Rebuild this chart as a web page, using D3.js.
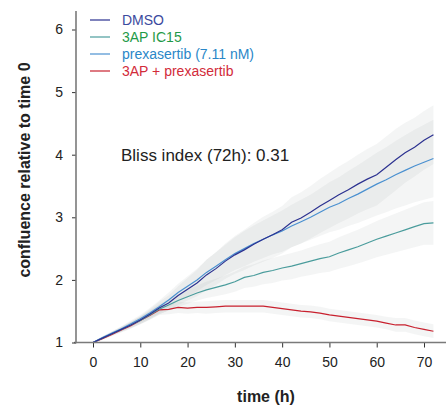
<!DOCTYPE html>
<html lang="en">
<head>
<meta charset="UTF-8">
<title>Confluence over time</title>
<script src="https://d3js.org/d3.v7.min.js"></script>
<style>
  body { margin: 0; background: #fff; }
  svg { display: block; font-family: "Liberation Sans", Arial, sans-serif; }
</style>
</head>
<body>
<div id="chart"></div>
<script>
// time points (h)
const hours = [0,2,4,6,8,10,12,14,16,18,20,22,24,26,28,30,32,34,36,38,40,42,44,46,48,50,52,54,56,58,60,62,64,66,68,70,72];

// mean confluence relative to time 0
const dmso = [1.00,1.07,1.14,1.21,1.28,1.36,1.45,1.55,1.63,1.75,1.85,1.95,2.08,2.18,2.30,2.40,2.48,2.57,2.65,2.72,2.80,2.92,2.99,3.08,3.18,3.27,3.36,3.44,3.53,3.61,3.68,3.80,3.92,4.03,4.12,4.23,4.32];
const ap3 = [1.00,1.07,1.14,1.21,1.28,1.35,1.44,1.53,1.60,1.67,1.73,1.79,1.84,1.88,1.92,1.97,2.04,2.07,2.12,2.15,2.19,2.22,2.26,2.30,2.34,2.37,2.43,2.48,2.53,2.59,2.65,2.70,2.75,2.80,2.85,2.90,2.91];
const prex = [1.00,1.08,1.15,1.22,1.30,1.38,1.47,1.57,1.68,1.80,1.90,2.00,2.12,2.22,2.32,2.42,2.50,2.58,2.65,2.72,2.78,2.86,2.93,3.00,3.08,3.16,3.22,3.30,3.37,3.45,3.53,3.60,3.68,3.75,3.82,3.88,3.94];
const combo = [1.00,1.06,1.13,1.20,1.27,1.35,1.43,1.52,1.53,1.56,1.55,1.56,1.56,1.57,1.58,1.58,1.58,1.58,1.58,1.56,1.54,1.52,1.50,1.49,1.47,1.44,1.42,1.40,1.38,1.36,1.34,1.31,1.28,1.28,1.24,1.21,1.18];

// spread (half width of the shaded band)
const dmsoSd = [.01,.02,.03,.04,.05,.06,.08,.10,.12,.15,.18,.21,.24,.26,.28,.30,.32,.34,.36,.37,.38,.40,.41,.42,.43,.44,.45,.46,.47,.48,.49,.49,.49,.48,.47,.47,.47];
const ap3Sd = [.01,.02,.03,.04,.05,.06,.07,.08,.09,.10,.11,.12,.13,.14,.15,.16,.17,.18,.19,.20,.20,.21,.21,.22,.23,.24,.25,.26,.27,.28,.29,.30,.31,.32,.33,.34,.35];
const prexSd = [.01,.02,.03,.04,.05,.06,.08,.10,.12,.14,.16,.18,.20,.22,.24,.26,.28,.29,.30,.31,.33,.34,.35,.36,.38,.40,.42,.44,.46,.48,.50,.52,.54,.56,.58,.60,.62];
const comboSd = [.01,.02,.03,.04,.05,.06,.07,.08,.08,.09,.09,.09,.10,.10,.10,.10,.10,.10,.10,.10,.10,.10,.10,.10,.10,.10,.10,.10,.10,.10,.10,.10,.11,.11,.11,.11,.11];

const seriesNames = ["DMSO", "3AP IC15", "prexasertib (7.11 nM)", "3AP + prexasertib"];
const lineColors = ["#2b3190", "#4a9c9c", "#4a90d0", "#c8202e"];
const textColors = ["#3b4a9e", "#1f9a48", "#2a87c8", "#d22b3a"];
const xTicks = [0,10,20,30,40,50,60,70];
const yTicks = [1,2,3,4,5,6];

const width = 446, height = 413;

const svg = d3.select("#chart").append("svg")
    .attr("width", width)
    .attr("height", height);

const x = d3.scaleLinear().domain([0, 70]).range([93, 424]);
const y = d3.scaleLinear().domain([1, 6]).range([342.5, 29.5]);

const series = [
  {mean: dmso, sd: dmsoSd},
  {mean: ap3, sd: ap3Sd},
  {mean: prex, sd: prexSd},
  {mean: combo, sd: comboSd}
];

// shaded bands
const area = d3.area()
    .x((d, i) => x(hours[i]))
    .y0(d => y(d[0]))
    .y1(d => y(d[1]));

series.forEach(s => {
  const band = s.mean.map((m, i) => [m - s.sd[i], m + s.sd[i]]);
  svg.append("path")
      .attr("d", area(band))
      .attr("fill", "#97a0a0")
      .attr("fill-opacity", 0.11);
});

// lines, DMSO on top
const line = d3.line()
    .x((d, i) => x(hours[i]))
    .y(d => y(d));

[3, 1, 2, 0].forEach(k => {
  svg.append("path")
      .attr("d", line(series[k].mean))
      .attr("fill", "none")
      .attr("stroke", lineColors[k])
      .attr("stroke-width", 1.2);
});

// axes
const xAxis = svg.append("g")
    .attr("transform", "translate(0,342.5)")
    .call(d3.axisBottom(x).tickValues(xTicks).tickSize(5).tickPadding(10).tickSizeOuter(0));
xAxis.select(".domain").remove();
xAxis.append("line")
    .attr("x1", 74).attr("x2", 446)
    .attr("stroke", "#7a7a7a").attr("stroke-width", 1.6);

const yAxis = svg.append("g")
    .attr("transform", "translate(76,0)")
    .call(d3.axisLeft(y).tickValues(yTicks).tickFormat(d3.format("d")).tickSize(4).tickPadding(9));
yAxis.select(".domain").remove();
yAxis.append("line")
    .attr("y1", 11).attr("y2", 343.3)
    .attr("stroke", "#7a7a7a").attr("stroke-width", 1.6);

svg.selectAll(".tick line").attr("stroke", "#333");
svg.selectAll(".tick text")
    .attr("fill", "#222")
    .style("font-size", "14px")
    .style("font-family", "'Liberation Sans', Arial, sans-serif");

// axis titles
svg.append("text")
    .attr("x", 266).attr("y", 402)
    .attr("text-anchor", "middle")
    .attr("font-weight", "bold")
    .attr("font-size", 16)
    .attr("fill", "#222")
    .text("time (h)");

svg.append("text")
    .attr("transform", "translate(29.5,170) rotate(-90)")
    .attr("text-anchor", "middle")
    .attr("font-weight", "bold")
    .attr("font-size", 16)
    .attr("fill", "#222")
    .text("confluence relative to time 0");

// legend
const legend = svg.append("g");
seriesNames.forEach((name, i) => {
  const ly = 20 + i * 17;
  legend.append("line")
      .attr("x1", 90).attr("x2", 110)
      .attr("y1", ly).attr("y2", ly)
      .attr("stroke", lineColors[i])
      .attr("stroke-width", 1.2);
  legend.append("text")
      .attr("x", 122).attr("y", ly + 5)
      .attr("font-size", 14)
      .attr("fill", textColors[i])
      .text(name);
});

// annotation
svg.append("text")
    .attr("x", 121).attr("y", 161)
    .attr("font-size", 17)
    .attr("fill", "#222")
    .text("Bliss index (72h): 0.31");
</script>
</body>
</html>
